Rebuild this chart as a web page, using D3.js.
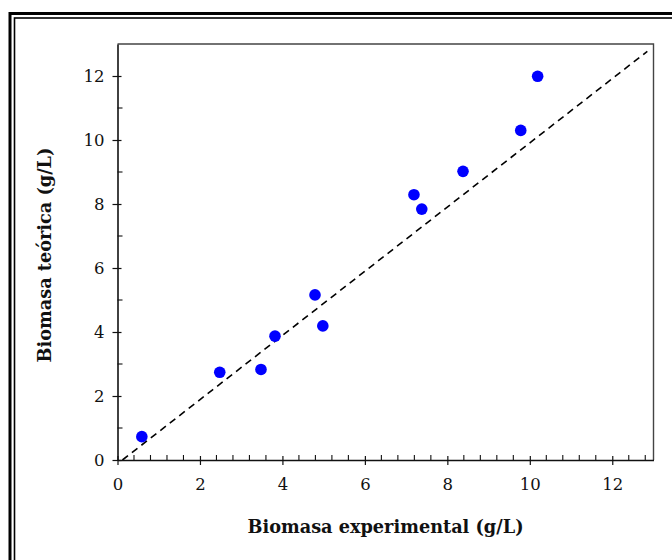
<!DOCTYPE html>
<html>
<head>
<meta charset="utf-8">
<script src="https://cdn.jsdelivr.net/npm/d3@7"></script>
<style>
  html, body { margin: 0; padding: 0; background: #fff; }
  svg { display: block; }
  text { font-family: "DejaVu Serif", "Liberation Serif", serif; fill: #111; }
</style>
</head>
<body>
<svg id="chart" width="672" height="560"></svg>
<script>
// Experimental vs. model-predicted biomass (g/L)
const experimental = [0.59, 2.48, 3.48, 3.82, 4.79, 4.98, 7.19, 7.38, 8.38, 9.78, 10.19];
const theoretical  = [0.73, 2.74, 2.83, 3.87, 5.16, 4.19, 8.29, 7.84, 9.02, 10.30, 11.99];

// identity reference line (y = x)
const refLineX = [0.12, 12.85];

const xMajorTicks = [0, 2, 4, 6, 8, 10, 12];
const yMajorTicks = [0, 2, 4, 6, 8, 10, 12];
const xMinorTicks = d3.range(0, 13.01, 0.4).filter(v => Math.abs(v / 2 - Math.round(v / 2)) > 1e-6);
const yMinorTicks = [1, 3, 5, 7, 9, 11];

const xTitle = "Biomasa experimental (g/L)";
const yTitle = "Biomasa teórica (g/L)";

const svg = d3.select("#chart");
const W = 672, H = 560;
const plot = { left: 117.5, right: 653.5, top: 44, bottom: 460 };

const x = d3.scaleLinear().domain([0, 13]).range([plot.left, plot.right]);
const y = d3.scaleLinear().domain([0, 13]).range([plot.bottom, plot.top]);

// double frame around the figure
svg.append("rect").attr("x", 10).attr("y", 13.5).attr("width", W + 40).attr("height", H + 40)
  .attr("fill", "none").attr("stroke", "#000").attr("stroke-width", 3);
svg.append("rect").attr("x", 14.5).attr("y", 18).attr("width", W + 40).attr("height", H + 40)
  .attr("fill", "none").attr("stroke", "#000").attr("stroke-width", 1.6);

// top and right edges of the plot box
svg.append("path")
  .attr("d", `M${plot.left},${plot.top}H${plot.right}V${plot.bottom}`)
  .attr("fill", "none").attr("stroke", "#444").attr("stroke-width", 1.4);

// identity line
svg.append("line")
  .attr("x1", x(refLineX[0])).attr("y1", y(refLineX[0] - 0.12))
  .attr("x2", x(refLineX[1])).attr("y2", y(refLineX[1] - 0.08))
  .attr("stroke", "#000").attr("stroke-width", 1.6).attr("stroke-dasharray", "7,5");

// x axis: major ticks cross the line, minor ticks point inward
const xAxis = svg.append("g").attr("transform", `translate(0,${plot.bottom})`)
  .call(d3.axisBottom(x).tickValues(xMajorTicks).tickSize(5).tickPadding(13).tickSizeOuter(0));
xAxis.select(".domain").attr("stroke", "#111").attr("stroke-width", 1.6);
xAxis.selectAll(".tick line").attr("y1", -4).attr("stroke", "#111").attr("stroke-width", 1.2);
xAxis.selectAll(".tick text").attr("font-size", 16.5).style("font-family", "DejaVu Serif, serif").attr("fill", "#222");
xAxis.selectAll(".minor").data(xMinorTicks).enter().append("line")
  .attr("x1", d => x(d)).attr("x2", d => x(d)).attr("y1", 0).attr("y2", -5)
  .attr("stroke", "#111").attr("stroke-width", 1.1);

// y axis
const yAxis = svg.append("g").attr("transform", `translate(${plot.left},0)`)
  .call(d3.axisLeft(y).tickValues(yMajorTicks).tickSize(5).tickPadding(8).tickSizeOuter(0));
yAxis.select(".domain").attr("stroke", "#111").attr("stroke-width", 1.6);
yAxis.selectAll(".tick line").attr("x1", 4).attr("stroke", "#111").attr("stroke-width", 1.2);
yAxis.selectAll(".tick text").attr("font-size", 16.5).style("font-family", "DejaVu Serif, serif").attr("fill", "#222");
yAxis.selectAll(".minor").data(yMinorTicks).enter().append("line")
  .attr("y1", d => y(d)).attr("y2", d => y(d)).attr("x1", 0).attr("x2", 5)
  .attr("stroke", "#111").attr("stroke-width", 1.1);

// data points
svg.append("g").selectAll("circle")
  .data(experimental.map((v, i) => [v, theoretical[i]]))
  .enter().append("circle")
  .attr("cx", d => x(d[0])).attr("cy", d => y(d[1])).attr("r", 5.8)
  .attr("fill", "#0000ff");

// axis titles
svg.append("text")
  .attr("x", (plot.left + plot.right) / 2).attr("y", 533)
  .attr("text-anchor", "middle").attr("font-size", 17.7).attr("font-weight", "bold")
  .text(xTitle);
svg.append("text")
  .attr("transform", `translate(51,${(plot.top + plot.bottom) / 2 + 3}) rotate(-90)`)
  .attr("text-anchor", "middle").attr("font-size", 17.7).attr("font-weight", "bold")
  .text(yTitle);
</script>
</body>
</html>
